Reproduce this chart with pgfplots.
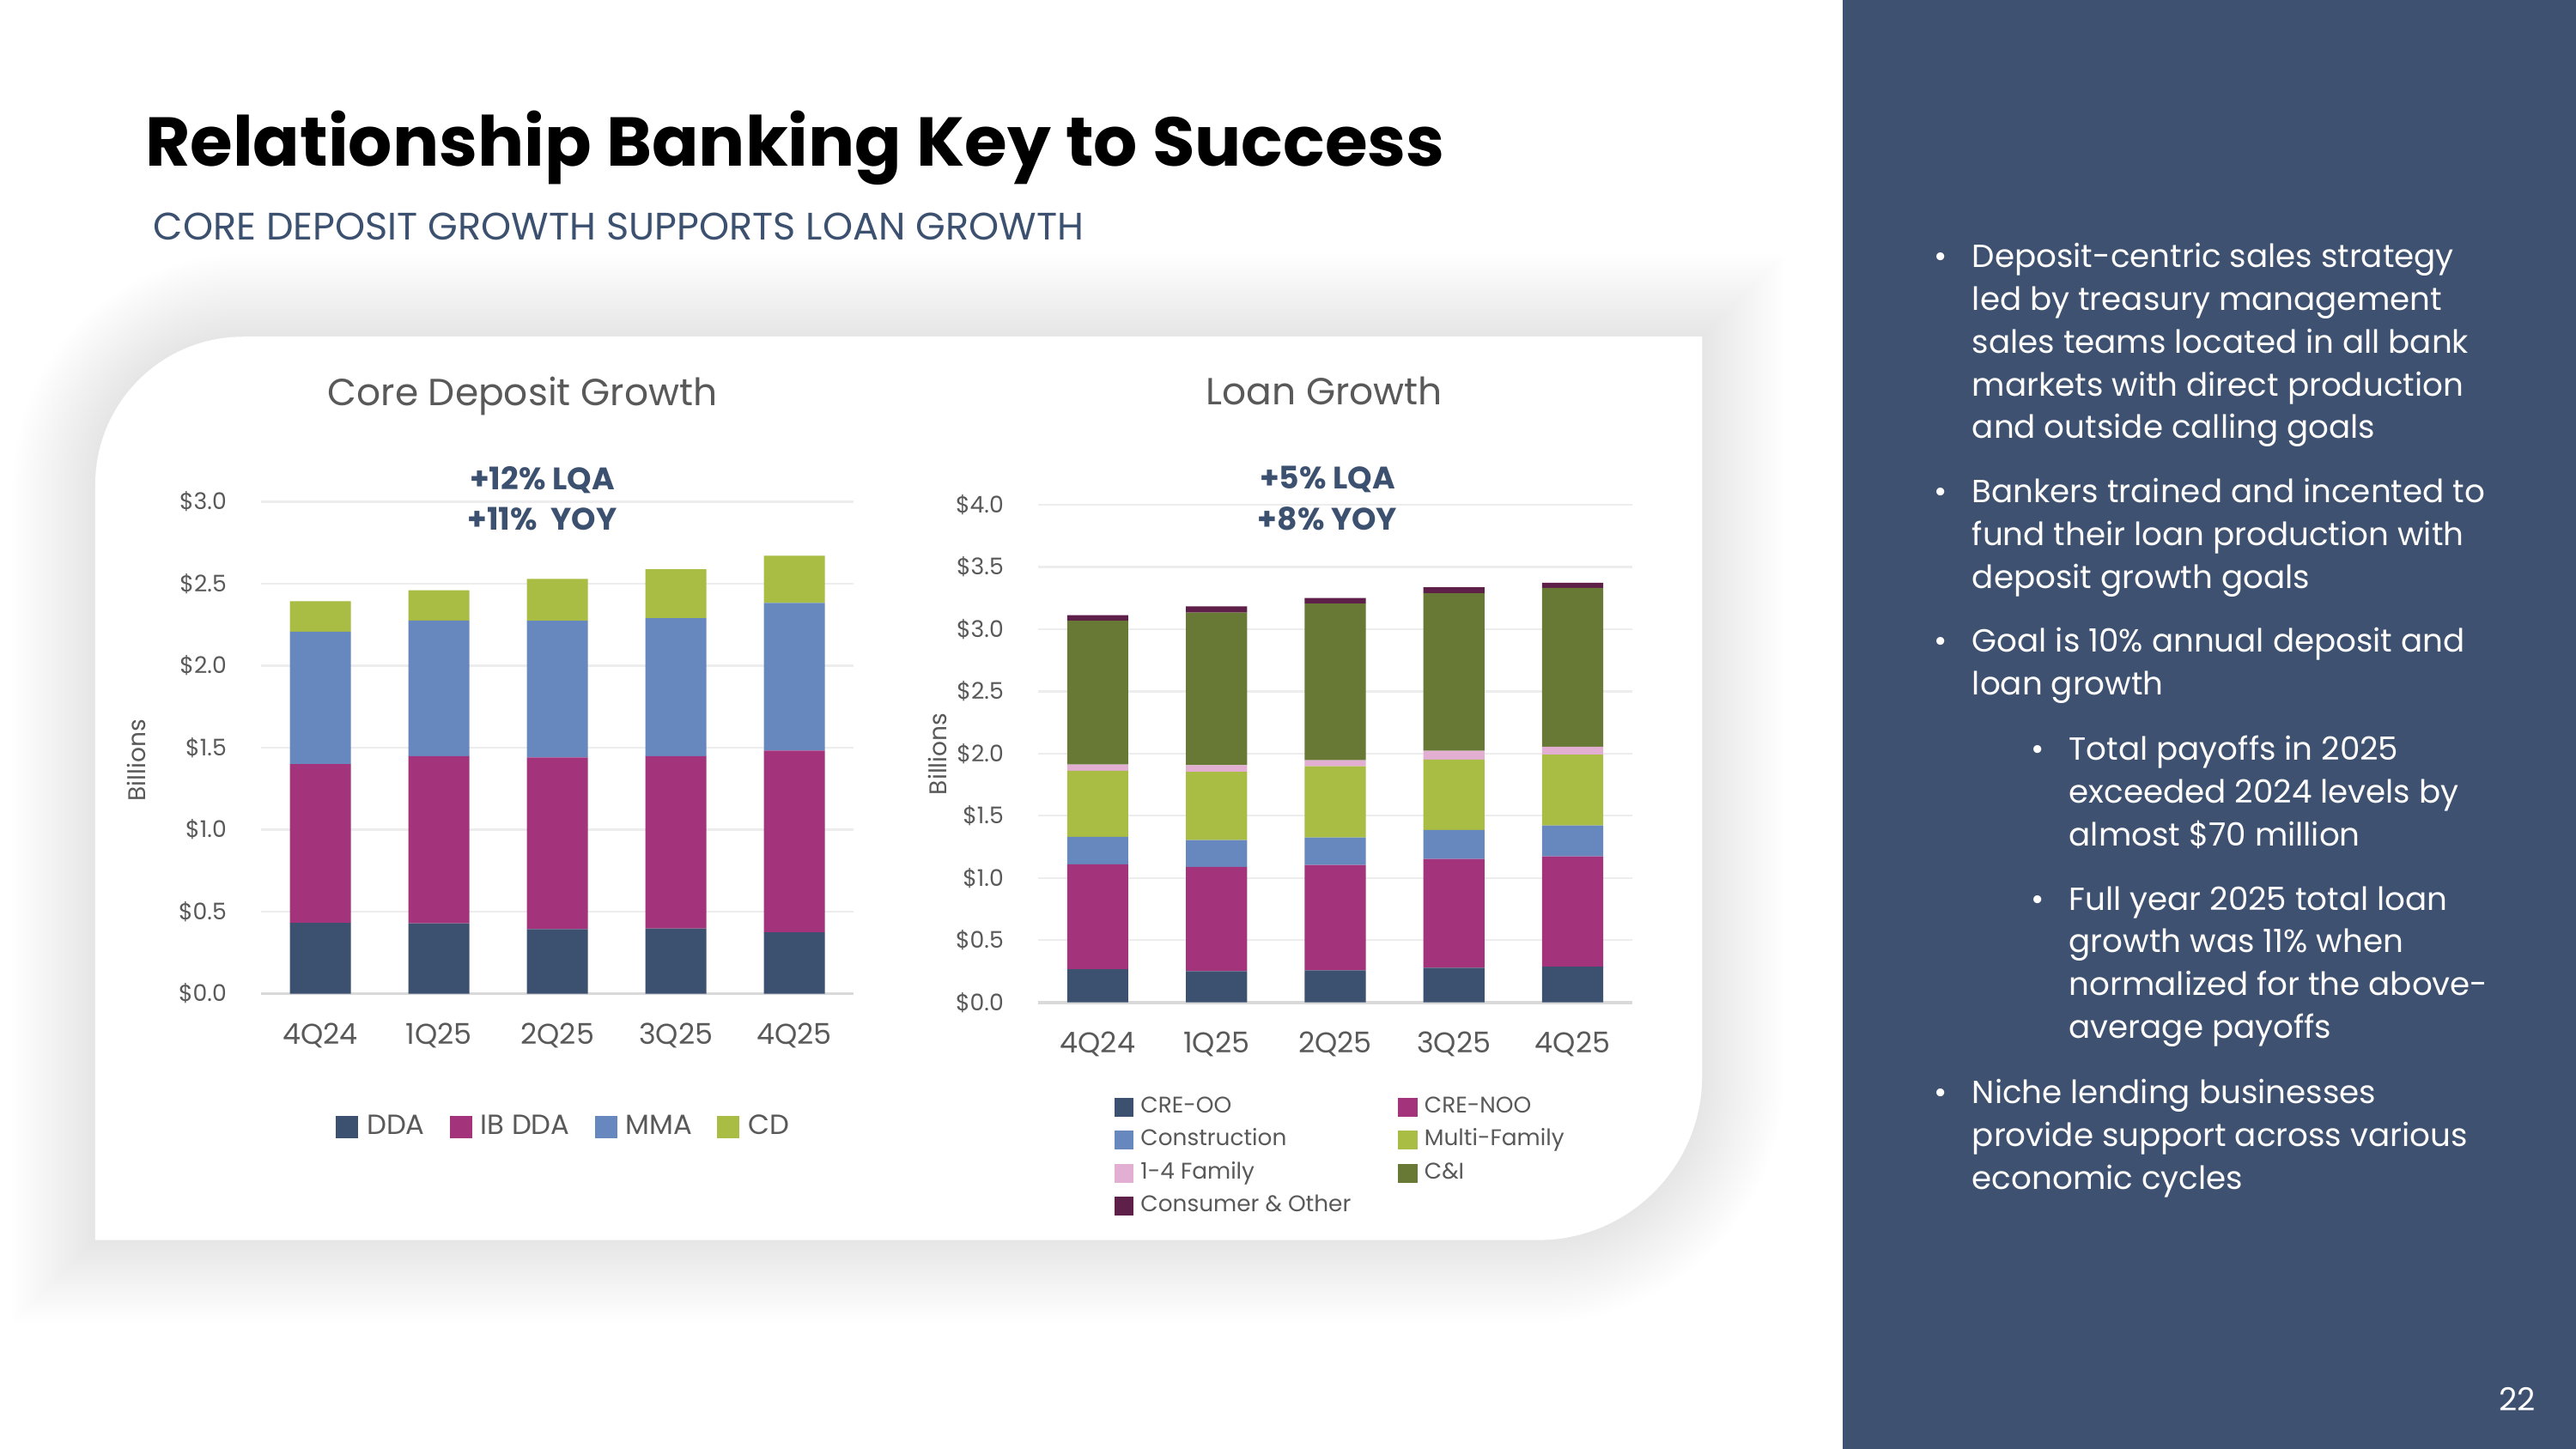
\documentclass[border=0pt]{standalone}
\usepackage{pgfplots}
\pgfplotsset{compat=1.18}
\usepackage{fontspec}
\setmainfont{Poppins}
\definecolor{cOO}{HTML}{3C5070}
\definecolor{cNOO}{HTML}{A3337B}
\definecolor{cCon}{HTML}{6788BF}
\definecolor{cMF}{HTML}{A9BC43}
\definecolor{cFam}{HTML}{E2AFD3}
\definecolor{cCI}{HTML}{687835}
\definecolor{cOth}{HTML}{5E1F48}
\definecolor{panel}{HTML}{3E5170}
\definecolor{txtgray}{HTML}{595959}
\definecolor{gridc}{HTML}{EDEDED}
\definecolor{basec}{HTML}{D9D9D9}
\definecolor{navytxt}{HTML}{3C5070}

\pgfplotsset{
  slidebars/.style={
    scale only axis,
    xmin=-0.5, xmax=4.5, ymin=0,
    ybar stacked, bar width=0.515,
    xtick={0,1,2,3,4}, xticklabels={4Q24,1Q25,2Q25,3Q25,4Q25},
    major tick length=0pt,
    axis line style={draw=none},
    ymajorgrids, major grid style={draw=gridc, line width=0.7pt},
    extra y ticks={0}, extra y tick labels={},
    extra y tick style={major grid style={draw=basec, line width=1.1pt}},
    yticklabel style={font=\fontsize{7.6}{9}\selectfont, text=txtgray, xshift=-0.28cm},
    xticklabel style={font=\fontsize{9.5}{11}\selectfont, text=txtgray, yshift=-0.22cm},
    /pgf/number format/assume math mode=true,
    ylabel={Billions},
    ylabel style={font=\fontsize{8}{10}\selectfont, text=txtgray, anchor=center},
    legend image code/.code={\fill[##1] (0cm,-0.13cm) rectangle (0.26cm,0.13cm);},
    legend cell align=left,
    every axis plot/.append style={draw=none},
  }
}
\newcommand{\pl}[3]{\node[anchor=base west, inner sep=0pt, text=white, font=\fontsize{10.6}{12}\selectfont] at (#1,#2) {#3};}

\begin{document}
\begin{tikzpicture}
\fill[white] (0,0) rectangle (30cm,16.875cm);
\fill[panel] (21.46cm,0) rectangle (30cm,16.875cm);
\begin{scope}[shift={(0cm,16.875cm)}, x=0.019133cm, y=-0.019133cm]
  % shadow of the card
  \foreach \d in {50,48,...,2} {
    \fill[black, opacity=0.0058] (58-\d,755+\d) -- (58-\d,295) arc[start angle=180,end angle=270,radius=90+\d]
      -- (1036+\d,205-\d) -- (1036+\d,655) arc[start angle=0,end angle=90,radius=100+\d] -- cycle;
  }
  \fill[white] (58,755) -- (58,295) arc[start angle=180,end angle=270,radius=90]
      -- (1036,205) -- (1036,655) arc[start angle=0,end angle=90,radius=100] -- cycle;
  % titles
  \node[anchor=base west, inner sep=0pt, font=\fontsize{22.9}{27}\selectfont\bfseries] at (88,101) {Relationship Banking Key to Success};
  \node[anchor=base west, inner sep=0pt, text=navytxt, font=\fontsize{12.7}{15}\selectfont] at (93,146) {CORE DEPOSIT GROWTH SUPPORTS LOAN GROWTH};
  % chart titles
  \node[text=txtgray, font=\fontsize{12.5}{14}\selectfont] at (318,241) {Core Deposit Growth};
  \node[text=txtgray, font=\fontsize{12.5}{14}\selectfont] at (806,238) {Loan Growth};
  \node[text=navytxt, font=\fontsize{10.3}{12}\selectfont\bfseries] at (330,292) {+12\% LQA};
  \node[text=navytxt, font=\fontsize{10.3}{12}\selectfont\bfseries] at (330,316) {+11\%\ \ YOY};
  \node[text=navytxt, font=\fontsize{10.3}{12}\selectfont\bfseries] at (808,292) {+5\% LQA};
  \node[text=navytxt, font=\fontsize{10.3}{12}\selectfont\bfseries] at (808,316) {+8\% YOY};
  % right panel text
  \pl{1177}{163}{•}
  \pl{1200}{163}{Deposit-centric sales strategy}
  \pl{1200}{189}{led by treasury management}
  \pl{1200}{215}{sales teams located in all bank}
  \pl{1200}{241}{markets with direct production}
  \pl{1200}{267}{and outside calling goals}
  \pl{1177}{306}{•}
  \pl{1200}{306}{Bankers trained and incented to}
  \pl{1200}{332}{fund their loan production with}
  \pl{1200}{358}{deposit growth goals}
  \pl{1177}{397}{•}
  \pl{1200}{397}{Goal is 10\% annual deposit and}
  \pl{1200}{423}{loan growth}
  \pl{1236}{463}{•}
  \pl{1259}{463}{Total payoffs in 2025}
  \pl{1259}{489}{exceeded 2024 levels by}
  \pl{1259}{515}{almost \$70 million}
  \pl{1236}{554}{•}
  \pl{1259}{554}{Full year 2025 total loan}
  \pl{1259}{580}{growth was 11\% when}
  \pl{1259}{606}{normalized for the above-}
  \pl{1259}{632}{average payoffs}
  \pl{1177}{672}{•}
  \pl{1200}{672}{Niche lending businesses}
  \pl{1200}{698}{provide support across various}
  \pl{1200}{724}{economic cycles}
  \node[text=white, font=\fontsize{10.5}{12}\selectfont] at (1532,852) {22};
\end{scope}

% ---------- Core Deposit Growth ----------
\begin{axis}[slidebars,
  at={(3.042cm,5.300cm)}, anchor=south west, width=6.899cm, height=5.730cm,
  ymax=3, ytick={0,0.5,1,1.5,2,2.5,3},
  yticklabels={\$0.0,\$0.5,\$1.0,\$1.5,\$2.0,\$2.5,\$3.0},
  ylabel style={at={(axis description cs:-0.211,0.474)}},
  legend columns=4,
  legend style={at={(0.125,-0.2705)}, anchor=west, draw=none, fill=none, inner sep=0pt,
    font=\fontsize{9.2}{11}\selectfont, text=txtgray,
    nodes={inner sep=0pt},
    /tikz/every odd column/.append style={column sep=0.1cm},
    /tikz/every even column/.append style={column sep=0.29cm}},
]
\addplot[fill=cOO]  coordinates {(0,0.431) (1,0.429) (2,0.393) (3,0.397) (4,0.374)};
\addplot[fill=cNOO] coordinates {(0,0.969) (1,1.019) (2,1.048) (3,1.051) (4,1.108)};
\addplot[fill=cCon] coordinates {(0,0.808) (1,0.828) (2,0.833) (3,0.842) (4,0.901)};
\addplot[fill=cMF]  coordinates {(0,0.186) (1,0.184) (2,0.256) (3,0.299) (4,0.288)};
\legend{DDA,IB DDA,MMA,CD}
\end{axis}

% ---------- Loan Growth ----------
\begin{axis}[slidebars,
  at={(12.092cm,5.198cm)}, anchor=south west, width=6.915cm, height=5.799cm,
  ymax=4, ytick={0,0.5,1,1.5,2,2.5,3,3.5,4},
  yticklabels={\$0.0,\$0.5,\$1.0,\$1.5,\$2.0,\$2.5,\$3.0,\$3.5,\$4.0},
  ylabel style={at={(axis description cs:-0.169,0.499)}},
  legend columns=2,
  legend image code/.code={\fill[#1] (0cm,-0.11cm) rectangle (0.225cm,0.11cm);},
  legend style={at={(0.1273,-0.1765)}, anchor=north west, draw=none, fill=none, inner sep=0pt,
    font=\fontsize{7.5}{9}\selectfont, text=txtgray,
    nodes={inner sep=0pt, text height=7.3pt, text depth=3.6pt},
    /tikz/every odd column/.append style={column sep=0.08cm},
    /tikz/every even column/.append style={column sep=0.55cm}},
]
\addplot[fill=cOO]  coordinates {(0,0.266) (1,0.251) (2,0.257) (3,0.278) (4,0.287)};
\addplot[fill=cNOO] coordinates {(0,0.844) (1,0.838) (2,0.847) (3,0.874) (4,0.886)};
\addplot[fill=cCon] coordinates {(0,0.221) (1,0.215) (2,0.221) (3,0.233) (4,0.248)};
\addplot[fill=cMF]  coordinates {(0,0.530) (1,0.548) (2,0.572) (3,0.566) (4,0.569)};
\addplot[fill=cFam] coordinates {(0,0.051) (1,0.054) (2,0.048) (3,0.071) (4,0.065)};
\addplot[fill=cCI]  coordinates {(0,1.155) (1,1.226) (2,1.259) (3,1.266) (4,1.275)};
\addplot[fill=cOth] coordinates {(0,0.044) (1,0.051) (2,0.045) (3,0.048) (4,0.042)};
\legend{CRE-OO,CRE-NOO,Construction,Multi-Family,1-4 Family,C\&I,Consumer \& Other}
\end{axis}
\end{tikzpicture}
\end{document}
